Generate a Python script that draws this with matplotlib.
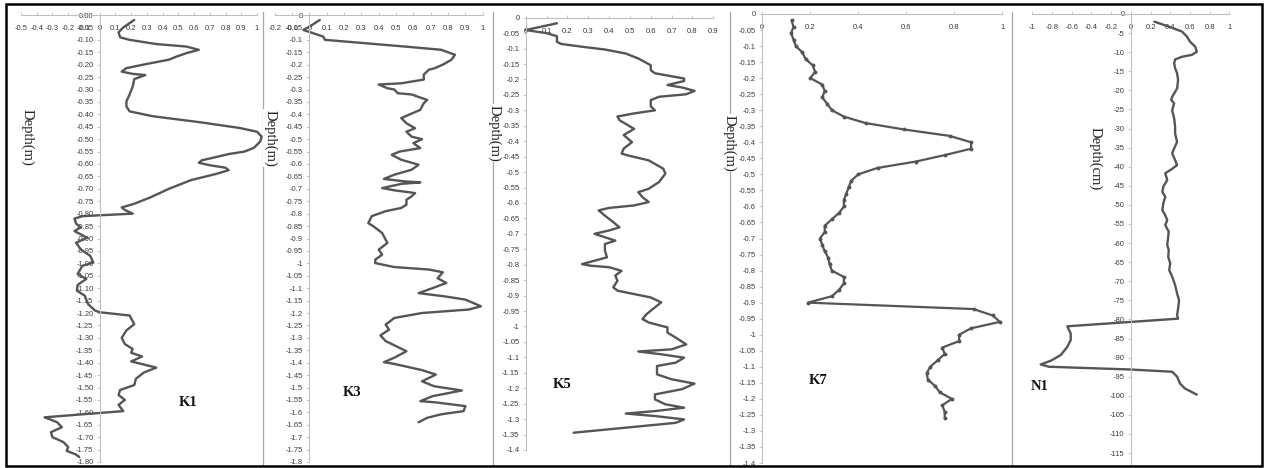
import matplotlib
matplotlib.use('Agg')
import matplotlib.pyplot as plt
import numpy as np
from matplotlib.lines import Line2D
from matplotlib.patches import Rectangle

W, H = 1265, 468

# K1 profile (value, depth in m)
k1_value = [0.22, 0.15, 0.12, 0.13, 0.19, 0.36, 0.55, 0.63, 0.55, 0.49, 0.44, 0.30, 0.17, 0.14, 0.21, 0.29,
            0.22, 0.21, 0.19, 0.17, 0.17, 0.19, 0.34, 0.64, 0.89, 1.0, 1.03, 1.02, 0.98, 0.92, 0.82, 0.74,
            0.65, 0.63, 0.70, 0.80, 0.82, 0.74, 0.58, 0.44, 0.32, 0.22, 0.14, 0.16, 0.21, -0.11, -0.16, -0.15,
            -0.12, -0.16, -0.08, -0.15, -0.12, -0.06, -0.04, -0.11, -0.14, -0.085, -0.14, -0.145, -0.095, -0.074,
            -0.03, 0.0, 0.19, 0.22, 0.17, 0.14, 0.16, 0.21, 0.20, 0.27, 0.20, 0.36, 0.28, 0.23, 0.22, 0.13,
            0.12, 0.16, 0.12, 0.15, -0.35, -0.27, -0.24, -0.31, -0.30, -0.23, -0.20, -0.21, -0.15, -0.13]
k1_depth = [-0.02, -0.05, -0.07, -0.09, -0.10, -0.117, -0.127, -0.14, -0.154, -0.167, -0.18, -0.197, -0.214,
            -0.228, -0.237, -0.242, -0.258, -0.288, -0.32, -0.348, -0.368, -0.388, -0.408, -0.432, -0.455,
            -0.47, -0.49, -0.51, -0.535, -0.55, -0.56, -0.572, -0.585, -0.595, -0.605, -0.615, -0.625, -0.64,
            -0.665, -0.70, -0.735, -0.76, -0.775, -0.785, -0.80, -0.81, -0.82, -0.84, -0.855, -0.87, -0.897,
            -0.917, -0.944, -0.97, -0.997, -1.01, -1.043, -1.063, -1.087, -1.11, -1.13, -1.164, -1.19, -1.197,
            -1.21, -1.245, -1.27, -1.30, -1.325, -1.345, -1.36, -1.375, -1.395, -1.42, -1.44, -1.465, -1.49,
            -1.51, -1.53, -1.55, -1.57, -1.595, -1.62, -1.64, -1.66, -1.68, -1.70, -1.72, -1.74, -1.755, -1.77,
            -1.78]

# K3 profile
k3_value = [0.06, 0.0, -0.035, 0.08, 0.09, 0.26, 0.55, 0.76, 0.84, 0.82, 0.77, 0.72, 0.69, 0.66, 0.66, 0.53,
            0.40, 0.45, 0.49, 0.51, 0.59, 0.63, 0.68, 0.66, 0.64, 0.58, 0.53, 0.56, 0.61, 0.56, 0.59, 0.65,
            0.60, 0.64, 0.52, 0.475, 0.53, 0.63, 0.59, 0.49, 0.43, 0.55, 0.64, 0.53, 0.42, 0.49, 0.61, 0.59,
            0.56, 0.56, 0.53, 0.44, 0.36, 0.34, 0.37, 0.42, 0.45, 0.40, 0.42, 0.38, 0.38, 0.49, 0.69, 0.77,
            0.74, 0.79, 0.71, 0.63, 0.78, 0.90, 0.99, 0.92, 0.65, 0.49, 0.44, 0.46, 0.41, 0.44, 0.56, 0.49,
            0.43, 0.49, 0.65, 0.73, 0.65, 0.72, 0.88, 0.71, 0.64, 0.73, 0.90, 0.89, 0.76, 0.68, 0.63]
k3_depth = [-0.02, -0.047, -0.06, -0.087, -0.10, -0.11, -0.127, -0.14, -0.16, -0.18, -0.20, -0.215, -0.22,
            -0.24, -0.26, -0.275, -0.28, -0.295, -0.30, -0.315, -0.32, -0.33, -0.342, -0.355, -0.382, -0.40,
            -0.415, -0.436, -0.456, -0.47, -0.49, -0.50, -0.516, -0.536, -0.55, -0.563, -0.583, -0.603, -0.623,
            -0.643, -0.66, -0.67, -0.674, -0.68, -0.697, -0.706, -0.717, -0.73, -0.744, -0.764, -0.777, -0.79,
            -0.81, -0.838, -0.851, -0.878, -0.918, -0.945, -0.965, -0.985, -0.999, -1.015, -1.025, -1.036,
            -1.06, -1.079, -1.10, -1.12, -1.133, -1.146, -1.173, -1.186, -1.20, -1.22, -1.247, -1.267, -1.29,
            -1.313, -1.354, -1.38, -1.398, -1.405, -1.43, -1.448, -1.475, -1.495, -1.512, -1.535, -1.555, -1.56,
            -1.575, -1.595, -1.608, -1.622, -1.64]

# K5 profile
k5_value = [0.15, 0.0, 0.10, 0.15, 0.15, 0.17, 0.27, 0.38, 0.48, 0.54, 0.60, 0.60, 0.62, 0.76, 0.76, 0.68,
            0.75, 0.81, 0.77, 0.64, 0.60, 0.60, 0.62, 0.52, 0.44, 0.45, 0.52, 0.47, 0.51, 0.47, 0.46, 0.49,
            0.59, 0.66, 0.67, 0.64, 0.59, 0.54, 0.56, 0.59, 0.52, 0.40, 0.35, 0.38, 0.42, 0.45, 0.40, 0.33,
            0.38, 0.43, 0.38, 0.38, 0.39, 0.33, 0.27, 0.31, 0.40, 0.46, 0.43, 0.44, 0.42, 0.44, 0.52, 0.60,
            0.65, 0.62, 0.58, 0.56, 0.59, 0.68, 0.68, 0.72, 0.77, 0.70, 0.54, 0.65, 0.76, 0.72, 0.63, 0.63,
            0.70, 0.81, 0.75, 0.62, 0.62, 0.67, 0.76, 0.62, 0.48, 0.62, 0.76, 0.72, 0.23]
k5_depth = [-0.018, -0.04, -0.05, -0.06, -0.078, -0.085, -0.094, -0.103, -0.116, -0.132, -0.154, -0.17, -0.18,
            -0.197, -0.205, -0.218, -0.226, -0.237, -0.248, -0.256, -0.267, -0.287, -0.30, -0.31, -0.32, -0.332,
            -0.36, -0.38, -0.403, -0.424, -0.44, -0.446, -0.462, -0.489, -0.505, -0.532, -0.554, -0.565, -0.581,
            -0.597, -0.608, -0.616, -0.624, -0.641, -0.662, -0.679, -0.689, -0.70, -0.711, -0.722, -0.733, -0.754,
            -0.776, -0.787, -0.798, -0.803, -0.808, -0.82, -0.835, -0.852, -0.873, -0.884, -0.895, -0.906,
            -0.922, -0.938, -0.96, -0.976, -0.987, -1.003, -1.02, -1.036, -1.058, -1.074, -1.081, -1.09, -1.101,
            -1.117, -1.128, -1.155, -1.171, -1.185, -1.203, -1.22, -1.236, -1.252, -1.263, -1.274, -1.282, -1.29,
            -1.301, -1.312, -1.344]

# K7 profile (sampled every 0.02 m, drawn with markers)
k7_value = [0.122, 0.13, 0.12, 0.13, 0.14, 0.167, 0.18, 0.21, 0.22, 0.20, 0.25, 0.26, 0.25, 0.27, 0.29, 0.34,
            0.43, 0.59, 0.78, 0.87, 0.87, 0.76, 0.64, 0.48, 0.40, 0.37, 0.36, 0.35, 0.34, 0.34, 0.32, 0.29,
            0.26, 0.26, 0.24, 0.25, 0.26, 0.275, 0.28, 0.29, 0.34, 0.34, 0.32, 0.29, 0.19, 0.88, 0.96, 0.99,
            0.87, 0.82, 0.82, 0.75, 0.76, 0.73, 0.70, 0.685, 0.69, 0.72, 0.74, 0.79, 0.75, 0.76, 0.76]
k7_depth = [-0.02, -0.04, -0.06, -0.08, -0.10, -0.12, -0.14, -0.16, -0.18, -0.20, -0.22, -0.24, -0.26, -0.28,
            -0.30, -0.32, -0.34, -0.36, -0.38, -0.40, -0.42, -0.44, -0.46, -0.48, -0.50, -0.52, -0.54, -0.56,
            -0.58, -0.60, -0.62, -0.64, -0.66, -0.68, -0.70, -0.72, -0.74, -0.76, -0.78, -0.80, -0.82, -0.84,
            -0.86, -0.88, -0.90, -0.92, -0.94, -0.96, -0.98, -1.00, -1.02, -1.04, -1.06, -1.08, -1.10, -1.12,
            -1.14, -1.16, -1.18, -1.20, -1.22, -1.24, -1.26]

# N1 profile (depth in cm)
n1_value = [0.24, 0.385, 0.52, 0.57, 0.60, 0.655, 0.67, 0.62, 0.52, 0.45, 0.44, 0.45, 0.47, 0.48, 0.47, 0.42,
            0.41, 0.44, 0.42, 0.44, 0.45, 0.45, 0.47, 0.44, 0.42, 0.45, 0.47, 0.40, 0.35, 0.37, 0.33, 0.32,
            0.35, 0.33, 0.32, 0.35, 0.37, 0.35, 0.385, 0.38, 0.37, 0.385, 0.38, 0.40, 0.39, 0.42, 0.45, 0.47,
            0.49, 0.48, 0.47, 0.48, -0.645, -0.61, -0.61, -0.645, -0.71, -0.81, -0.915, -0.83, -0.02, 0.42,
            0.47, 0.50, 0.55, 0.67]
n1_depth = [-2.0, -3.3, -4.6, -5.9, -7.2, -8.6, -9.9, -10.7, -11.2, -11.9, -12.9, -14.2, -15.5, -17.3, -19.5,
            -21.7, -22.5, -23.4, -25.2, -27.3, -29.5, -31.3, -33.5, -35.2, -36.5, -38.3, -39.6, -40.9, -41.7,
            -43.5, -45.2, -46.6, -47.9, -49.6, -51.4, -52.7, -54.0, -55.3, -57.0, -58.3, -60.5, -61.8, -63.6,
            -65.3, -67.1, -68.8, -71.0, -73.2, -75.0, -77.2, -78.9, -79.8, -81.8, -83.7, -85.4, -87.2, -89.3,
            -90.8, -91.8, -92.4, -93.1, -93.7, -95.0, -96.8, -98.1, -99.7]

LINE = '#555555'
AXIS = '#bfbfbf'
TXT = '#3a3a3a'

plt.rcParams['font.family'] = ['Liberation Sans', 'DejaVu Sans']


def gfmt(v):
    v = round(v, 2)
    if v == 0:
        return '0'
    return f'{v:g}'


def k1fmt(v):
    v = round(v, 2)
    if v == 0:
        return '0.00'
    return f'{v:.2f}'


def make_axes(fig, x0, x1, y0, y1):
    # pixel box -> figure fraction
    return fig.add_axes([x0 / W, 1 - y1 / H, (x1 - x0) / W, (y1 - y0) / H])


def setup(ax, xlim, ylim, xticks, yticks, yfmt):
    ax.set_xlim(xlim)
    ax.set_ylim(ylim)
    ax.patch.set_alpha(0)
    ax.spines['bottom'].set_visible(False)
    ax.spines['right'].set_visible(False)
    ax.spines['left'].set_position(('data', 0))
    for s in ['top', 'left']:
        ax.spines[s].set_color(AXIS)
        ax.spines[s].set_linewidth(0.8)
    ax.set_xticks(xticks)
    ax.set_xticklabels([gfmt(v) for v in xticks])
    ax.set_yticks(yticks)
    ax.set_yticklabels([yfmt(v) for v in yticks])
    ax.tick_params(axis='x', top=True, bottom=False, labeltop=True, labelbottom=False,
                   direction='out', length=2, width=0.6, pad=-14.5, labelsize=5.5,
                   color=AXIS, labelcolor=TXT)
    ax.tick_params(axis='y', direction='out', length=2, width=0.6, pad=2.5, labelsize=5.5,
                   color=AXIS, labelcolor=TXT)


def draw(ax, xs, ys, **kw):
    ax.plot(xs, ys, color=LINE, clip_on=False, solid_joinstyle='round', solid_capstyle='round', **kw)


fig = plt.figure(figsize=(W / 100, H / 100), dpi=100)
fig.patch.set_facecolor('white')

# K1
ax1 = make_axes(fig, 21, 257, 15, 462)
setup(ax1, (-0.5, 1), (-1.8, 0), np.round(np.arange(-0.5, 1.01, 0.1), 2),
      np.round(np.arange(0, -1.801, -0.05), 2), k1fmt)
draw(ax1, k1_value, k1_depth, lw=1.7)

# K3
ax3 = make_axes(fig, 274.7, 482.7, 15, 462)
setup(ax3, (-0.2, 1), (-1.8, 0), np.round(np.arange(-0.2, 1.01, 0.1), 2),
      np.round(np.arange(0, -1.801, -0.05), 2), gfmt)
draw(ax3, k3_value, k3_depth, lw=1.7)

# K5
ax5 = make_axes(fig, 525.7, 713.3, 17.7, 450)
setup(ax5, (0, 0.9), (-1.4, 0), np.round(np.arange(0, 0.91, 0.1), 2),
      np.round(np.arange(0, -1.401, -0.05), 2), gfmt)
draw(ax5, k5_value, k5_depth, lw=1.7)

# K7
ax7 = make_axes(fig, 762.3, 1002.3, 14, 463)
setup(ax7, (0, 1), (-1.4, 0), np.round(np.arange(0, 1.01, 0.2), 2),
      np.round(np.arange(0, -1.401, -0.05), 2), gfmt)
draw(ax7, k7_value, k7_depth, lw=1.6, marker='o', ms=1.8)

# N1
axn = make_axes(fig, 1032.3, 1229.3, 14, 464.5)
setup(axn, (-1, 1), (-118, 0), np.round(np.arange(-1, 1.01, 0.2), 2),
      np.arange(0, -116, -5), lambda v: f'{int(v)}')
draw(axn, n1_value, n1_depth, lw=1.7)

# depth labels and panel names
serif = ['Liberation Serif', 'DejaVu Serif']
for x, y, s in [(27, 137, 'Depth(m)'), (270, 138, 'Depth(m)'), (494, 133, 'Depth(m)'),
                (729, 143, 'Depth(m)'), (1095, 159, 'Depth(cm)')]:
    fig.text(x / W, 1 - y / H, s, rotation=-90, ha='center', va='center', fontsize=10.5,
             family=serif, color='#222222', zorder=5,
             bbox=dict(facecolor='white', edgecolor='none', pad=0.5))

for x, y, s in [(188, 402, 'K1'), (352, 393, 'K3'), (562, 385, 'K5'), (818, 380, 'K7'), (1040, 386, 'N1')]:
    fig.text(x / W, 1 - y / H, s, ha='center', va='center', fontsize=10.5, weight='bold',
             family=serif, color='#111111', zorder=5)

# panel separators
for x in [262.5, 493, 730, 1012]:
    fig.add_artist(Line2D([x / W, x / W], [1 - 12 / H, 1 - 465 / H], color='#a6a6a6', lw=0.9, zorder=1))

# outer frame
fig.add_artist(Rectangle((5.5 / W, 1 - 466 / H), 1256 / W, 462 / H, transform=fig.transFigure,
                         fill=False, edgecolor='black', lw=1.8, zorder=6))

fig.savefig('out.png', dpi=100, facecolor='white')
